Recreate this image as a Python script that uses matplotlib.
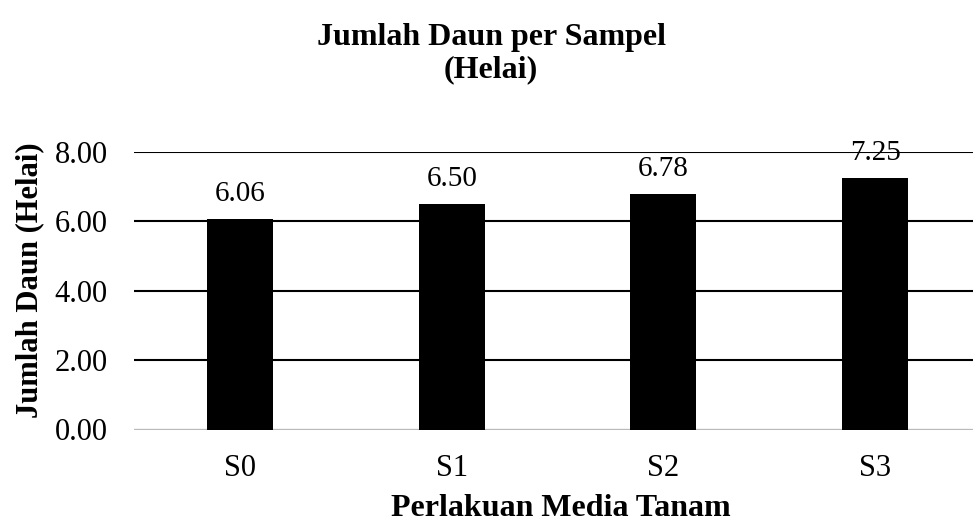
import matplotlib
matplotlib.use("Agg")
import matplotlib.pyplot as plt

categories = ["S0", "S1", "S2", "S3"]
values = [6.06, 6.50, 6.78, 7.25]
yticks = [0.0, 2.0, 4.0, 6.0, 8.0]

plt.rcParams['font.family'] = ['Liberation Serif', 'DejaVu Serif']

W, H = 973, 525
fig = plt.figure(figsize=(W / 100, H / 100), dpi=100)
left, right, top, bottom = 134.2, 981.0, 152.0, 429.5
ax = fig.add_axes([left / W, 1 - bottom / H, (right - left) / W, (bottom - top) / H])

x = list(range(len(categories)))
ax.bar(x, values, width=0.312, color="black", zorder=3)
for xi, v in zip(x, values):
    ax.text(xi, v + 0.52, f"{v:.2f}", ha="center", va="baseline", fontsize=21, zorder=4)

ax.set_ylim(0, 8)
ax.set_xlim(-0.5, 3.5)
ax.set_yticks(yticks)
ax.set_yticklabels([f"{t:.2f}" for t in yticks], fontsize=22)
ax.set_xticks(x)
ax.set_xticklabels(categories, fontsize=22)
ax.yaxis.grid(True, color="black", linewidth=1.5, zorder=0)
ax.tick_params(axis="y", length=0, pad=19)
ax.tick_params(axis="x", length=0, pad=18)
for s in ax.spines.values():
    s.set_visible(False)
ax.axhline(0, color="#d0d0d0", linewidth=2.0, zorder=1)
ax.set_axisbelow(True)

ax.set_xlabel("Perlakuan Media Tanam", fontsize=23, fontweight="bold")
ax.set_ylabel("Jumlah Daun (Helai)", fontsize=22, fontweight="bold")
ax.xaxis.set_label_coords((561 - left) / (right - left), -(508 - bottom) / (bottom - top))
ax.yaxis.set_label_coords(-(left - 30) / (right - left), (bottom - 280) / (bottom - top))
ax.xaxis.label.set_va("center")
ax.yaxis.label.set_va("center")

fig.text(491 / W, 1 - 54 / H, "Jumlah Daun per Sampel\n(Helai)", ha="center", va="center",
         fontsize=23, fontweight="bold", linespacing=1.15)

fig.savefig("out.png", dpi=100)
